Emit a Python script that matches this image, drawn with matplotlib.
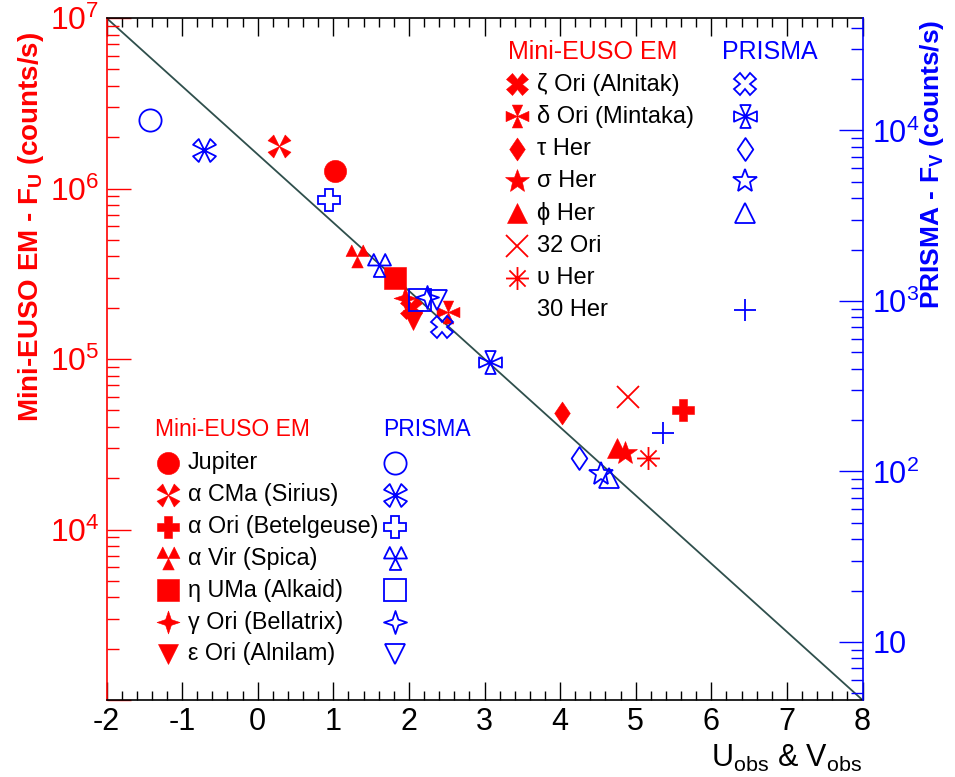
import numpy as np
import matplotlib
matplotlib.use('Agg')
import matplotlib.pyplot as plt
from matplotlib.path import Path
from matplotlib import font_manager
from matplotlib.ticker import FixedLocator, FixedFormatter, NullFormatter

# ---------------- data ----------------
objects = ['Jupiter', 'α CMa (Sirius)', 'α Ori (Betelgeuse)', 'α Vir (Spica)',
           'η UMa (Alkaid)', 'γ Ori (Bellatrix)', 'ε Ori (Alnilam)',
           'ζ Ori (Alnitak)', 'δ Ori (Mintaka)', 'τ Her', 'σ Her', 'ϕ Her',
           '32 Ori', 'υ Her', '30 Her']
u_obs = [1.02, 0.28, 5.62, 1.31, 1.82, 1.95, 2.05, 2.03, 2.52, 4.03, 4.86, 4.75, 4.90, 5.16, np.nan]
flux_u = [1.27e6, 1.77e6, 5.0e4, 4.0e5, 3.0e5, 2.28e5, 1.70e5, 2.0e5, 1.89e5,
          4.8e4, 2.81e4, 3.0e4, 6.0e4, 2.62e4, np.nan]
v_obs = [-1.42, -0.71, 0.94, 1.60, 2.15, 2.24, 2.37, 2.44, 3.07, 4.25, 4.54, 4.65,
         np.nan, np.nan, 5.36]
flux_v = [1.15e4, 7.7e3, 3.9e3, 1.63e3, 1.01e3, 1.06e3, 1.01e3, 705, 439, 120, 96.8, 91.6,
          np.nan, np.nan, 168]

fit_intercept = 6.2   # log10(F) = intercept + slope * mag
fit_slope = -0.4

x_ticks = [-2, -1, 0, 1, 2, 3, 4, 5, 6, 7, 8]
x_ticklabels = ['-2', '-1', '0', '1', '2', '3', '4', '5', '6', '7', '8']
left_ticks = [1e4, 1e5, 1e6, 1e7]
left_ticklabels = [r'$10^{4}$', r'$10^{5}$', r'$10^{6}$', r'$10^{7}$']
right_ticks = [10, 100, 1e3, 1e4]
right_ticklabels = ['10', r'$10^{2}$', r'$10^{3}$', r'$10^{4}$']
left_lim = (1e3, 1e7)
right_factor = 219.0
right_lim = (left_lim[0] / right_factor, left_lim[1] / right_factor)

# ---------------- fonts ----------------
fnames = {f.name for f in font_manager.fontManager.ttflist}
NARROW = 'Liberation Sans Narrow' if 'Liberation Sans Narrow' in fnames else 'Liberation Sans'
plt.rcParams['font.family'] = ['Liberation Sans', 'DejaVu Sans']
plt.rcParams['mathtext.fontset'] = 'custom'
plt.rcParams['mathtext.rm'] = 'Liberation Sans'
plt.rcParams['mathtext.it'] = 'Liberation Sans:italic'
plt.rcParams['mathtext.bf'] = 'Liberation Sans:bold'
plt.rcParams['mathtext.sf'] = NARROW

RED = '#ff0000'
BLUE = '#0000ff'
LINEC = '#2f4f4c'

# ---------------- custom markers ----------------
def polys(*ps):
    verts, codes = [], []
    for p in ps:
        verts += list(p) + [p[0]]
        codes += [Path.MOVETO] + [Path.LINETO] * (len(p) - 1) + [Path.CLOSEPOLY]
    return Path(verts, codes)

M_4TRI_X = polys([(0, 0), (0.5, 1), (1, 0.5)], [(0, 0), (1, -0.5), (0.5, -1)],
                 [(0, 0), (-0.5, -1), (-1, -0.5)], [(0, 0), (-1, 0.5), (-0.5, 1)])
M_4TRI_P = polys([(0, 0), (-0.45, 1), (0.45, 1)], [(0, 0), (1, 0.45), (1, -0.45)],
                 [(0, 0), (0.45, -1), (-0.45, -1)], [(0, 0), (-1, -0.45), (-1, 0.45)])
M_3TRI = polys([(0, 0), (-0.5, 1), (-1, 0)], [(0, 0), (1, 0), (0.5, 1)],
               [(0, 0), (0.5, -1), (-0.5, -1)])
a = 0.25
M_DDIAM = polys([(0, 1), (a, a), (1, 0), (a, -a), (0, -1), (-a, -a), (-1, 0), (-a, a)])
M_DIAM = polys([(0, 1), (0.68, 0), (0, -1), (-0.68, 0)])
d = 0.7071
M_AST = Path([(-1, 0), (1, 0), (0, -1), (0, 1), (-d, -d), (d, d), (-d, d), (d, -d)],
             [Path.MOVETO, Path.LINETO] * 4)

red_markers = ['o', M_4TRI_X, 'P', M_3TRI, 's', M_DDIAM, 'v', 'X', M_4TRI_P,
               M_DIAM, '*', '^', 'x', M_AST, None]
blue_markers = ['o', M_4TRI_X, 'P', M_3TRI, 's', M_DDIAM, 'v', 'X', M_4TRI_P,
                M_DIAM, '*', '^', None, None, '+']
line_only = {'x', '+'}

def msize(m):
    if isinstance(m, Path):
        return 16.5
    return {'o': 16, 's': 15.5, 'P': 15.5, 'X': 15.5, 'v': 15, '^': 15, '*': 18,
            'x': 16, '+': 16.5}[m]

def draw_marker(axx, x, y, m, color, filled, **kw):
    is_line = (m in line_only) if not isinstance(m, Path) else (m is M_AST)
    if filled and not is_line:
        axx.plot(x, y, linestyle='none', marker=m, ms=msize(m), mfc=color, mec=color,
                 mew=0.4, **kw)
    else:
        axx.plot(x, y, linestyle='none', marker=m, ms=msize(m), mfc='none', mec=color,
                 mew=1.3, **kw)

# ---------------- figure ----------------
W, H = 955, 777
L, R, T, B = 106.5, 862.5, 18, 700
fig = plt.figure(figsize=(W / 100, H / 100), dpi=100)
ax = fig.add_axes([L / W, 1 - B / H, (R - L) / W, (B - T) / H])
ax2 = ax.twinx()

ax.set_xlim(-2, 8)
ax.set_yscale('log')
ax.set_ylim(*left_lim)
ax2.set_yscale('log')
ax2.set_ylim(*right_lim)

# fit line
xf = np.array(ax.get_xlim())
ax.plot(xf, 10 ** (fit_intercept + fit_slope * xf), color=LINEC, lw=1.3, zorder=1)

# data markers
for i in range(len(objects)):
    if red_markers[i] is not None and not np.isnan(u_obs[i]):
        draw_marker(ax, u_obs[i], flux_u[i], red_markers[i], RED, True, zorder=3)
for i in range(len(objects)):
    if blue_markers[i] is not None and not np.isnan(v_obs[i]):
        draw_marker(ax2, v_obs[i], flux_v[i], blue_markers[i], BLUE, False, zorder=3)

# spines
for s in ['top', 'bottom']:
    ax.spines[s].set_color('black')
    ax.spines[s].set_linewidth(1.2)
ax.spines['left'].set_color(RED)
ax.spines['left'].set_linewidth(1.2)
ax.spines['right'].set_visible(False)
for s in ['left', 'top', 'bottom']:
    ax2.spines[s].set_visible(False)
ax2.spines['right'].set_color(BLUE)
ax2.spines['right'].set_linewidth(1.2)

# x ticks
ax.xaxis.set_major_locator(FixedLocator(x_ticks))
ax.xaxis.set_major_formatter(FixedFormatter(x_ticklabels))
ax.xaxis.set_minor_locator(FixedLocator(np.arange(-2, 8.001, 0.2)))
ax.tick_params(axis='x', which='both', direction='in', top=True, bottom=True,
               color='black', width=1.0, labelsize=22, pad=5)
ax.tick_params(axis='x', which='major', length=13)
ax.tick_params(axis='x', which='minor', length=6.5)
for lab in ax.get_xticklabels():
    lab.set_family(NARROW)

# left y ticks
minor_left = [m * 10 ** e for e in range(3, 7) for m in range(2, 10)]
ax.yaxis.set_major_locator(FixedLocator([1e3] + left_ticks))
ax.yaxis.set_major_formatter(FixedFormatter([''] + left_ticklabels))
ax.yaxis.set_minor_locator(FixedLocator(minor_left))
ax.yaxis.set_minor_formatter(NullFormatter())
ax.tick_params(axis='y', which='both', direction='in', left=True, right=False,
               color=RED, labelcolor=RED, width=1.0, labelsize=23, pad=5)
ax.tick_params(axis='y', which='major', length=17)
ax.tick_params(axis='y', which='minor', length=8.5)

# right y ticks
minor_right = [m * 10 ** e for e in range(0, 5) for m in range(2, 10)]
ax2.yaxis.set_major_locator(FixedLocator(right_ticks))
ax2.yaxis.set_major_formatter(FixedFormatter(right_ticklabels))
ax2.yaxis.set_minor_locator(FixedLocator(minor_right))
ax2.yaxis.set_minor_formatter(NullFormatter())
ax2.tick_params(axis='y', which='both', direction='in', right=True, left=False,
                color=BLUE, labelcolor=BLUE, width=1.0, labelsize=22, pad=7)
ax2.tick_params(axis='y', which='major', length=17)
ax2.tick_params(axis='y', which='minor', length=8.5)

# axis titles
ax.set_xlabel(r'$\mathsf{U_{obs}}$ & $\mathsf{V_{obs}}$', loc='right',
              fontsize=22, labelpad=4, family=NARROW)
fig.text(31 / W, 1 - 32 / H, r'Mini-EUSO EM - F$_\mathbf{U}$ (counts/s)', rotation=90,
         ha='center', va='top', color=RED, fontsize=20, fontweight='bold')
fig.text(932 / W, 1 - 20 / H, r'PRISMA - F$_\mathbf{V}$ (counts/s)', rotation=90,
         ha='center', va='top', color=BLUE, fontsize=19, fontweight='bold')

# ---------------- legends ----------------
def pa(px, py):
    return (px - L) / (R - L), (B - py) / (B - T)

def legend_block(idx, header_y, row0, dy, red_x, text_x, blue_x, hdr_red_x, hdr_blue_x,
                 hsize, tsize):
    hx, hy = pa(hdr_red_x, header_y)
    ax.text(hx, hy, 'Mini-EUSO EM', transform=ax.transAxes, color=RED, fontsize=hsize,
            ha='left', va='center')
    hx, hy = pa(hdr_blue_x, header_y)
    ax.text(hx, hy, 'PRISMA', transform=ax.transAxes, color=BLUE, fontsize=hsize,
            ha='left', va='center')
    for k, i in enumerate(idx):
        py = row0 + dy * k
        if red_markers[i] is not None:
            mx, my = pa(red_x, py)
            draw_marker(ax, mx, my, red_markers[i], RED, True, transform=ax.transAxes,
                        clip_on=False, zorder=4)
        tx, ty = pa(text_x, py)
        ax.text(tx, ty, objects[i], transform=ax.transAxes, color='black', fontsize=tsize,
                ha='left', va='center')
        if blue_markers[i] is not None:
            mx, my = pa(blue_x, py)
            draw_marker(ax, mx, my, blue_markers[i], BLUE, False, transform=ax.transAxes,
                        clip_on=False, zorder=4)

legend_block(range(7, 15), 52, 84, 32.3, 517, 537, 745, 508, 722, 18, 17)
legend_block(range(0, 7), 430, 463, 31.8, 168, 188, 395, 155, 383, 16.5, 16.8)

fig.savefig('out.png', dpi=100)
